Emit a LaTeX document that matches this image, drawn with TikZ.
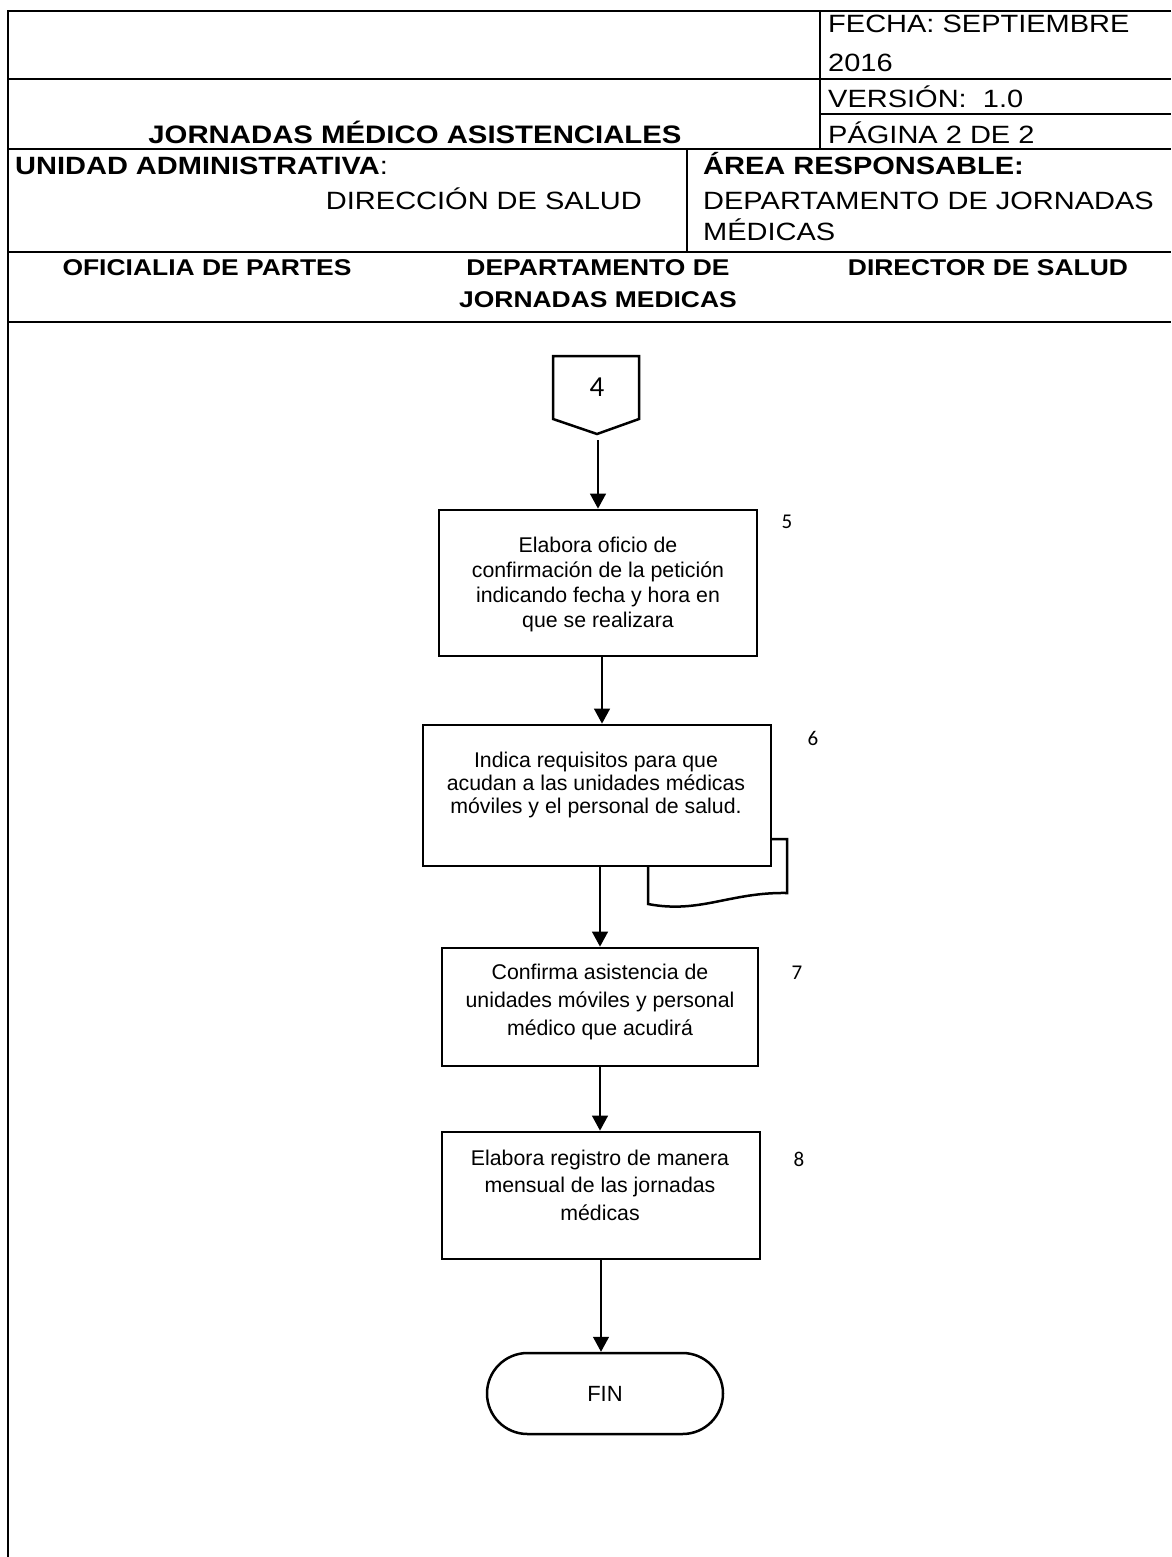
\documentclass[tikz,border=0pt]{standalone}
\usepackage{fontspec}
\setmainfont{Liberation Sans}
\newfontfamily\hdrfont[FakeStretch=1.16]{Liberation Sans}
\newfontfamily\numfont{Carlito}
\usetikzlibrary{arrows.meta,shapes.misc}
\tikzset{
  frame/.style={line width=2.7pt},
  hdrtext/.style={inner sep=0pt, font=\hdrfont\fontsize{25}{28}\selectfont},
  lanetext/.style={inner sep=0pt, font=\hdrfont\bfseries\fontsize{22.8}{26}\selectfont},
  procbox/.style={draw, line width=2.8pt, rectangle, inner sep=0pt},
  boxtext/.style={align=center, inner sep=0pt},
  stepnum/.style={inner sep=0pt, font=\numfont\fontsize{21}{25}\selectfont},
  arr/.style={line width=1.3pt, -{Triangle[width=16pt,length=15pt]}},
}
\begin{document}
\begin{tikzpicture}[x=1pt,y=-1pt]
\useasboundingbox (0,0) rectangle (1171,1557);
% header frame
\draw[frame, line join=miter] (1171,11) -- (8,11) -- (8,1557);
\draw[frame] (8,79) -- (1171,79);
\draw[frame] (820,114) -- (1171,114);
\draw[frame] (820,11) -- (820,149);
\draw[frame] (8,149) -- (1171,149);
\draw[frame] (687,149) -- (687,252);
\draw[frame] (8,252) -- (1171,252);
\draw[frame] (8,322) -- (1171,322);
% header texts
\node[hdrtext, anchor=base west] (fecha) at (828,33) {FECHA: SEPTIEMBRE};
\node[hdrtext, anchor=base west] (anio) at (828,72) {2016};
\node[hdrtext, anchor=base west] (version) at (828,108) {VERSIÓN:\ \ 1.0};
\node[hdrtext, anchor=base west] (pagina) at (828,144) {PÁGINA 2 DE 2};
\node[hdrtext, anchor=base, font=\hdrfont\bfseries\fontsize{25.3}{28}\selectfont] (titulo) at (415,144) {JORNADAS MÉDICO ASISTENCIALES};
\node[hdrtext, anchor=base west] (unidad) at (15,175) {{\bfseries UNIDAD ADMINISTRATIVA}:};
\node[hdrtext, anchor=base east] (direccion) at (642,210) {DIRECCIÓN DE SALUD};
\node[hdrtext, anchor=base west] (area) at (703,175) {\bfseries ÁREA RESPONSABLE:};
\node[hdrtext, anchor=base west] (depto1) at (703,210) {DEPARTAMENTO DE JORNADAS};
\node[hdrtext, anchor=base west] (depto2) at (703,240) {MÉDICAS};
% lane headers
\node[lanetext, anchor=base] (lane1) at (207,275) {OFICIALIA DE PARTES};
\node[lanetext, anchor=base] (lane2a) at (598,275) {DEPARTAMENTO DE};
\node[lanetext, anchor=base] (lane2b) at (598,307) {JORNADAS MEDICAS};
\node[lanetext, anchor=base] (lane3) at (988,275) {DIRECTOR DE SALUD};
% off-page connector
\draw[line width=2.5pt, line join=miter] (553,356) -- (639,356) -- (639,419) -- (597,434) -- (553,419) -- cycle;
\node[inner sep=0pt, font=\numfont\fontsize{29}{32}\selectfont] (c4) at (597,387) {4};
\coordinate (c4out) at (598,440);
% process boxes
\node[procbox, minimum width=318pt, minimum height=146pt] (b5) at (598,583) {};
\node[boxtext, font=\fontsize{21.3}{25}\selectfont] (t5) at (598,584.5) {Elabora oficio de\\confirmación de la petición\\indicando fecha y hora en\\que se realizara};
\node[stepnum] (n5) at (787,522) {5};

\node[procbox, minimum width=348pt, minimum height=141pt] (b6) at (597,795.5) {};
\node[boxtext, font=\fontsize{21.3}{23}\selectfont] (t6) at (596,784.5) {Indica requisitos para que\\acudan a las unidades médicas\\móviles y el personal de salud.};
\node[stepnum] (n6) at (813,738) {6};
\draw[line width=2.5pt, line join=miter] (771,839) -- (787,839) -- (787,893) .. controls (730,892) and (700,914) .. (648,904) -- (648,866);

\node[procbox, minimum width=316pt, minimum height=118pt] (b7) at (600,1007) {};
\node[boxtext, font=\fontsize{21.3}{28}\selectfont] (t7) at (600,1001.5) {Confirma asistencia de\\unidades móviles y personal\\médico que acudirá};
\node[stepnum] (n7) at (797,973) {7};

\node[procbox, minimum width=318pt, minimum height=127pt] (b8) at (601,1195.5) {};
\node[boxtext, font=\fontsize{21.3}{27.5}\selectfont] (t8) at (600,1185) {Elabora registro de manera\\mensual de las jornadas\\médicas};
\node[stepnum] (n8) at (799,1159) {8};

\node[draw, rounded rectangle, line width=2.5pt, minimum width=236pt, minimum height=81pt, inner sep=0pt, font=\fontsize{22}{26}\selectfont] (fin) at (605,1393.5) {FIN};

% connectors
\draw[arr] (c4out) -- (c4out |- b5.north);
\draw[arr] ([xshift=4pt]b5.south) -- ([xshift=4pt]b5.south |- b6.north);
\draw[arr] ([xshift=3pt]b6.south) -- ([xshift=3pt]b6.south |- b7.north);
\draw[arr] (b7.south) -- (b7.south |- b8.north);
\draw[arr] (b8.south) -- (b8.south |- fin.north);
\end{tikzpicture}
\end{document}
